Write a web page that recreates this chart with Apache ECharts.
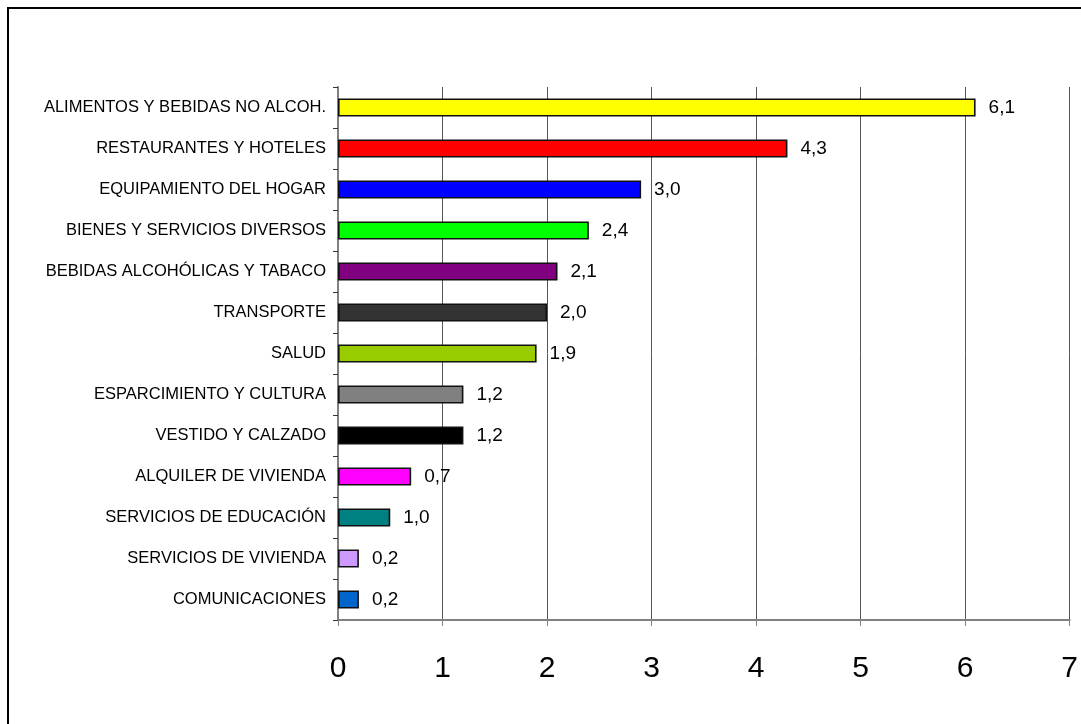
<!DOCTYPE html>
<html>
<head>
    <meta charset="utf-8">
    <title>Gasto por división</title>
    <script src="https://cdn.jsdelivr.net/npm/echarts@6/dist/echarts.min.js"></script>
    <style>
        html, body { margin: 0; padding: 0; background: #fff; }
    </style>
</head>
<body>
    <div id="main" style="width: 1081px;height:724px;"></div>
    <script type="text/javascript">
        // categorías, de arriba hacia abajo
        var categorias = [
          'ALIMENTOS Y BEBIDAS NO ALCOH.',
          'RESTAURANTES Y HOTELES',
          'EQUIPAMIENTO DEL HOGAR',
          'BIENES Y SERVICIOS DIVERSOS',
          'BEBIDAS ALCOHÓLICAS Y TABACO',
          'TRANSPORTE',
          'SALUD',
          'ESPARCIMIENTO Y CULTURA',
          'VESTIDO Y CALZADO',
          'ALQUILER DE VIVIENDA',
          'SERVICIOS DE EDUCACIÓN',
          'SERVICIOS DE VIVIENDA',
          'COMUNICACIONES'
        ];
        // largo de cada barra
        var valores = [6.1, 4.3, 2.9, 2.4, 2.1, 2.0, 1.9, 1.2, 1.2, 0.7, 0.5, 0.2, 0.2];
        // texto de las etiquetas tal como aparece
        var etiquetas = ['6,1', '4,3', '3,0', '2,4', '2,1', '2,0', '1,9', '1,2', '1,2', '0,7', '1,0', '0,2', '0,2'];
        var colores = ['#ffff00', '#ff0000', '#0000ff', '#00ff00', '#800080', '#333333', '#99cc00',
                       '#808080', '#000000', '#ff00ff', '#008080', '#cc99ff', '#0066cc'];
        var ticksX = [0, 1, 2, 3, 4, 5, 6, 7];

        var myChart = echarts.init(document.getElementById('main'));

        var option = {
          animation: false,
          backgroundColor: '#fff',
          graphic: [{
            type: 'rect',
            shape: { x: 8, y: 8, width: 1100, height: 760 },
            style: { fill: 'none', stroke: '#000', lineWidth: 2 },
            silent: true
          }],
          grid: { left: 338, right: 11, top: 87, bottom: 104 },
          xAxis: {
            type: 'value',
            min: ticksX[0],
            max: ticksX[ticksX.length - 1],
            interval: 1,
            axisLine: { show: true, lineStyle: { color: '#808080', width: 2 } },
            axisTick: { show: true, length: 6, lineStyle: { color: '#808080' } },
            axisLabel: {
              margin: 34,
              fontFamily: 'Liberation Sans',
              fontSize: 30,
              color: '#000'
            },
            splitLine: { show: true, lineStyle: { color: '#555', width: 1 } }
          },
          yAxis: {
            type: 'category',
            inverse: true,
            data: categorias,
            axisLine: { show: true, lineStyle: { color: '#808080', width: 2 } },
            axisTick: { show: true, length: 5, lineStyle: { color: '#333' } },
            axisLabel: {
              margin: 12,
              fontFamily: 'Liberation Sans',
              fontSize: 16.5,
              color: '#000'
            }
          },
          series: [{
            type: 'bar',
            barWidth: 18,
            data: valores.map(function (v, i) {
              return { value: v, itemStyle: { color: colores[i] } };
            }),
            itemStyle: { borderColor: '#111', borderWidth: 1.6 },
            label: {
              show: true,
              position: 'right',
              distance: 13,
              fontFamily: 'Liberation Sans',
              fontSize: 19,
              color: '#000',
              formatter: function (p) { return etiquetas[p.dataIndex]; }
            }
          }]
        };

        myChart.setOption(option);
    </script>
</body>
</html>
